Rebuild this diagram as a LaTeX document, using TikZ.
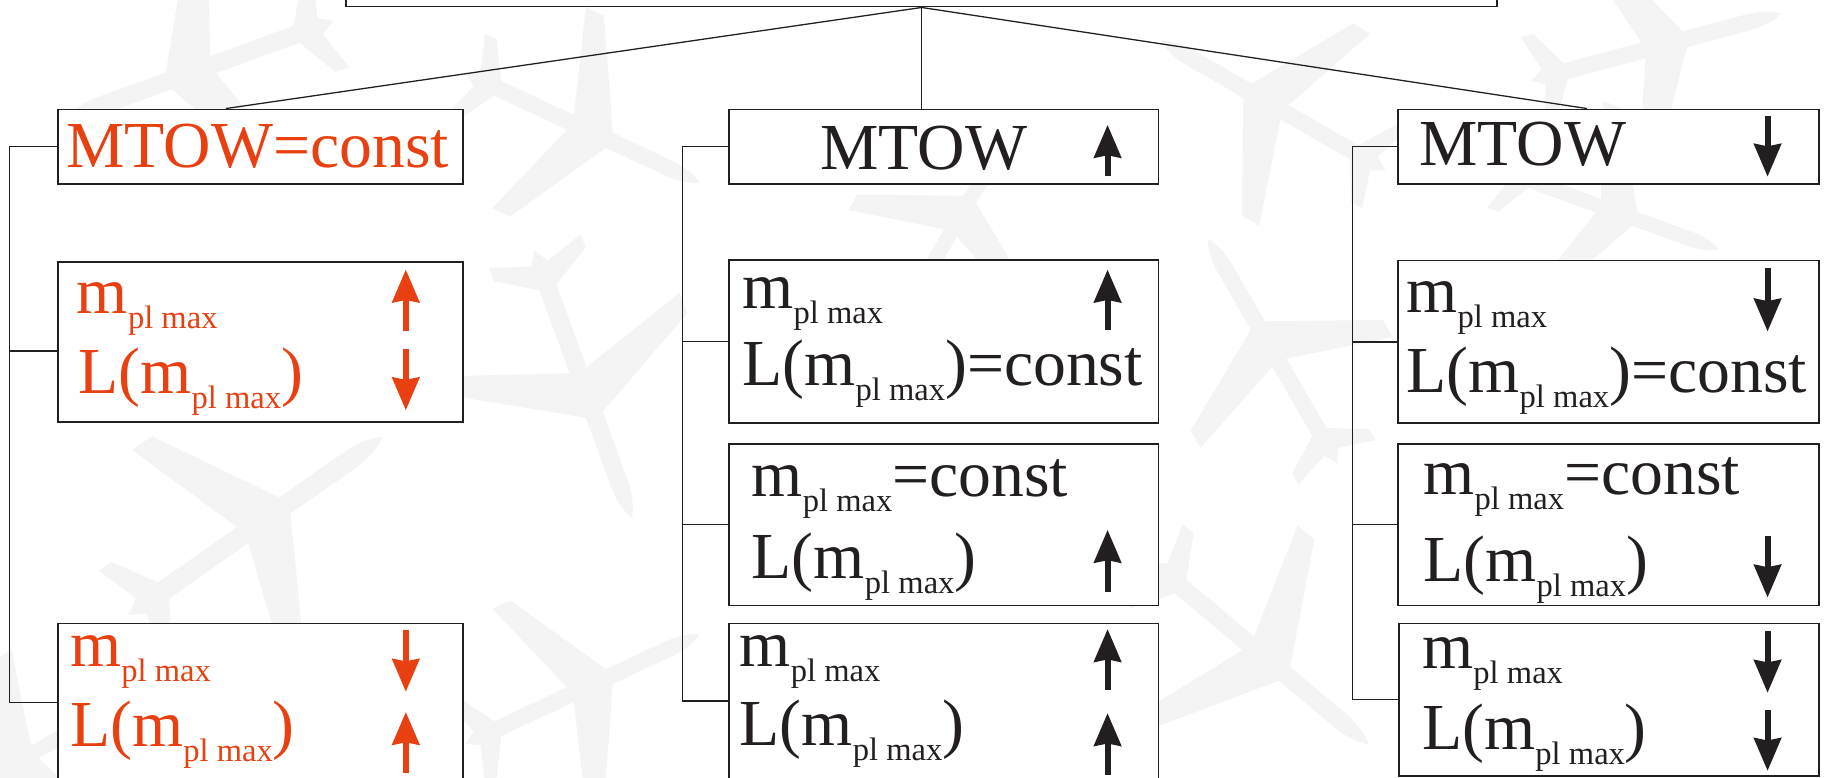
\documentclass[tikz,border=0pt]{standalone}
\usepackage{fontspec}
\setmainfont{Liberation Serif}
\usetikzlibrary{arrows.meta,calc}
\definecolor{org}{HTML}{E84010}
\definecolor{ink}{HTML}{231F20}
\definecolor{bgp}{HTML}{F4F4F4}
\newcommand{\plsub}{\raisebox{-12.8bp}{\fontsize{28}{28}\selectfont pl max}}
\newcommand{\mplx}{m\plsub}
\tikzset{plane/.pic={
  \fill[bgp] (-100,-7) -- (80,-7) .. controls (95,-7) and (105,-3) .. (110,0)
     .. controls (105,3) and (95,7) .. (80,7) -- (-100,7) -- (-112,0) -- cycle;
  \fill[bgp] (25,-6) -- (-25,-95) -- (-42,-95) -- (-12,-6) -- cycle;
  \fill[bgp] (25,6) -- (-25,95) -- (-42,95) -- (-12,6) -- cycle;
  \fill[bgp] (-80,-5) -- (-100,-38) -- (-111,-38) -- (-100,-5) -- cycle;
  \fill[bgp] (-80,5) -- (-100,38) -- (-111,38) -- (-100,5) -- cycle;
}}
\begin{document}
\begin{tikzpicture}[x=1bp,y=-1bp,
  box/.style={draw=ink, line width=1.4bp, fill=white, inner sep=0pt, anchor=north west},
  txt/.style={anchor=base west, inner sep=0pt, font=\fontsize{56.5}{60}\selectfont},
  con/.style={draw=ink, line width=1.1bp},
  arr/.style={line width=5bp, -{Stealth[length=28bp,width=23bp,inset=2bp]}},
  oarr/.style={arr, draw=org, fill=org},
  karr/.style={arr, draw=ink, fill=ink},
]
\useasboundingbox (0,0) rectangle (1568,666);
\clip (0,0) rectangle (1568,666);
\fill[white] (0,0) rectangle (1568,666);

% faint background airplanes
\pic[rotate=200, scale=1.1] at (170,60) {plane};
\pic[rotate=-25, scale=1.0] at (500,110) {plane};
\pic[rotate=150, scale=1.0] at (1090,90) {plane};
\pic[rotate=15, scale=1.0] at (1420,40) {plane};
\pic[rotate=35, scale=1.2] at (220,450) {plane};
\pic[rotate=-70, scale=1.1] at (500,330) {plane};
\pic[rotate=25, scale=1.0] at (500,590) {plane};
\pic[rotate=120, scale=1.0] at (1090,300) {plane};
\pic[rotate=-40, scale=1.1] at (1080,560) {plane};
\pic[rotate=-150, scale=0.9] at (20,650) {plane};
\pic[rotate=60, scale=0.9] at (820,190) {plane};
\pic[rotate=-20, scale=0.9] at (1380,180) {plane};

% boxes
\node[box, minimum width=986bp, minimum height=65bp] (T) at (296,-60) {};
\node[box, minimum width=347bp, minimum height=64bp] (B1) at (49,93) {};
\node[box, minimum width=347bp, minimum height=137bp] (B2) at (49,224) {};
\node[box, minimum width=347bp, minimum height=140bp] (B3) at (49,533.6) {};
\node[box, minimum width=368bp, minimum height=64bp] (C1) at (624,93) {};
\node[box, minimum width=368bp, minimum height=140bp] (C2) at (624,222) {};
\node[box, minimum width=368bp, minimum height=138bp] (C3) at (624,380) {};
\node[box, minimum width=368bp, minimum height=140bp] (C4) at (624,533.6) {};
\node[box, minimum width=361bp, minimum height=64bp] (D1) at (1197,93) {};
\node[box, minimum width=361bp, minimum height=139.5bp] (D2) at (1197,222.5) {};
\node[box, minimum width=361bp, minimum height=138bp] (D3) at (1197,380) {};
\node[box, minimum width=360bp, minimum height=130.5bp] (D4) at (1198,533.6) {};

% connectors from top box
\draw[con] (T.south) -- ($(B1.north west)!0.415!(B1.north east)$);
\draw[con] (T.south) -- (T.south |- C1.north);
\draw[con] (T.south) -- ($(D1.north west)!0.449!(D1.north east)$);

% bracket spines
\coordinate (LS) at (8,0);
\coordinate (MS) at (585,0);
\coordinate (RS) at (1159,0);
\coordinate (B2s) at ($(B2.west)+(0,7.5)$);
\coordinate (B3s) at ($(B3.west)+(0,-2.6)$);
\coordinate (C4s) at ($(C4.west)+(0,-3.6)$);
\draw[con] (B1.west) -- (LS |- B1.west) -- (LS |- B3s) -- (B3s);
\draw[con] (LS |- B2s) -- (B2s);
\draw[con] (C1.west) -- (MS |- C1.west) -- (MS |- C4s) -- (C4s);
\draw[con] (MS |- C2.west) -- (C2.west);
\draw[con] (MS |- C3.west) -- (C3.west);
\draw[con] (D1.west) -- (RS |- D1.west) -- (RS |- D4.west) -- (D4.west);
\draw[con] (RS |- D2.west) -- (D2.west);
\draw[con] (RS |- D3.west) -- (D3.west);

% left column (orange)
\node[txt, text=org] (b1t) at (56.7,143.7) {MTOW=const};
\node[txt, text=org] (b2a) at (65.7,268.5) {\mplx};
\node[txt, text=org] (b2b) at (67,337) {L(\mplx)};
\draw[oarr] (347.7,283.5) -- (347.7,231);
\draw[oarr] (347.7,299.4) -- (347.7,351.5);
\node[txt, text=org] (b3a) at (60,571.3) {\mplx};
\node[txt, text=org] (b3b) at (60,640) {L(\mplx)};
\draw[oarr] (347.7,540) -- (347.7,592.7);
\draw[oarr] (347.7,662) -- (347.7,610);

% middle column
\node[txt, text=ink] (c1t) at (702.7,145) {MTOW};
\draw[karr] (949,151) -- (949,107);
\node[txt, text=ink] (c2a) at (636,264.2) {\mplx};
\node[txt, text=ink] (c2b) at (636,330) {L(\mplx)=const};
\draw[karr] (949,283) -- (949,231);
\node[txt, text=ink] (c3a) at (644,425.6) {\mplx=const};
\node[txt, text=ink] (c3b) at (644,495.6) {L(\mplx)};
\draw[karr] (949,507) -- (949,454);
\node[txt, text=ink] (c4a) at (633.7,571.3) {\mplx};
\node[txt, text=ink] (c4b) at (633.7,638.5) {L(\mplx)};
\draw[karr] (949,591) -- (949,539);
\draw[karr] (949,664) -- (949,611);

% right column
\node[txt, text=ink] (d1t) at (1216,141.4) {MTOW};
\draw[karr] (1514.5,99.4) -- (1514.5,151.4);
\node[txt, text=ink] (d2a) at (1205,268) {\mplx};
\node[txt, text=ink] (d2b) at (1205,336) {L(\mplx)=const};
\draw[karr] (1514.5,230) -- (1514.5,284);
\node[txt, text=ink] (d3a) at (1219.5,424) {\mplx=const};
\node[txt, text=ink] (d3b) at (1219.5,498.5) {L(\mplx)};
\draw[karr] (1514.5,459) -- (1514.5,512);
\node[txt, text=ink] (d4a) at (1218.5,572.8) {\mplx};
\node[txt, text=ink] (d4b) at (1218.5,642) {L(\mplx)};
\draw[karr] (1514.5,541) -- (1514.5,593.6);
\draw[karr] (1514.5,608) -- (1514.5,660.5);
\end{tikzpicture}
\end{document}
